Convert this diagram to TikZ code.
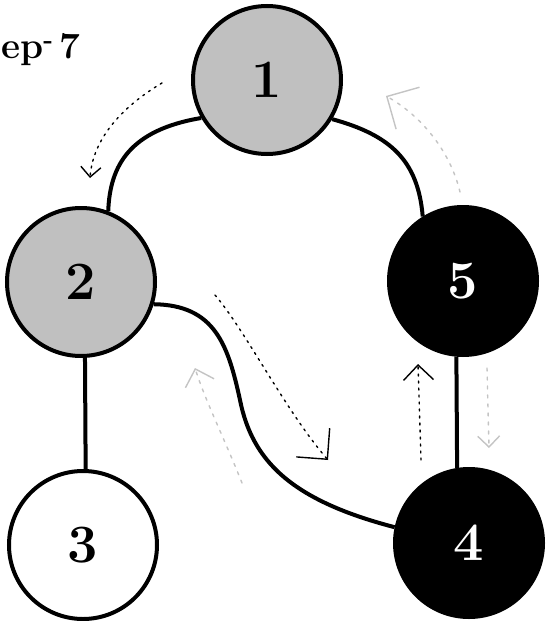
\documentclass[tikz,border=0pt]{standalone}
\usetikzlibrary{arrows.meta}
\definecolor{nodegray}{HTML}{C0C0C0}
\definecolor{flowgray}{HTML}{C4C4C4}
\begin{document}
\begin{tikzpicture}[x=1pt,y=-1pt,
  vertex/.style={circle,draw=black,line width=4pt,minimum size=148pt,inner sep=0pt,
    font=\fontsize{54}{60}\selectfont\bfseries},
  edge/.style={draw=black,line width=4pt},
  flowblack/.style={draw=black,line width=1.4pt,line cap=round,dash pattern=on 2pt off 5pt,
    -{Straight Barb[length=10pt,width=20pt,scale=#1]}},
  flowgrey/.style={draw=flowgray,line width=1.4pt,line cap=round,dash pattern=on 3pt off 6pt,
    -{Straight Barb[length=10pt,width=20pt,scale=#1]}},
  titletext/.style={font=\fontsize{37}{42}\selectfont\bfseries,inner sep=0pt}
]
\useasboundingbox (0,0) rectangle (546,621);
\fill[white] (0,0) rectangle (546,621);

% title
\node[titletext,anchor=base west] (title) at (1,58) {ep\textsuperscript{-}\,7};

% vertices
\node[vertex,fill=nodegray] (n1) at (267,80) {1};
\node[vertex,fill=nodegray] (n2) at (81,282) {2};
\node[vertex,fill=white] (n3) at (83,545) {3};
\node[vertex,fill=black,text=white] (n4) at (469,543) {4};
\node[vertex,fill=black,text=white] (n5) at (463,281) {5};

% edges
\draw[edge] (n1.210) .. controls (130,130) and (110,165) .. (n2.69);
\draw[edge] (n1.329) .. controls (390,135) and (418,160) .. (n5.122);
\draw[edge] (n2.273) -- (n3.88);
\draw[edge] (n2.343) .. controls (215,305) and (228,345) .. (240,400)
   .. controls (252,460) and (290,500) .. (n4.168);
\draw[edge] (n5.265) -- (n4.99);

% traversal arrows
\coordinate (a1s) at (162,83);  \coordinate (a1e) at (90,178);
\coordinate (a2s) at (460,192); \coordinate (a2e) at (386,96);
\coordinate (a3s) at (215,295); \coordinate (a3e) at (328,460);
\coordinate (a4s) at (242,483); \coordinate (a4e) at (195,368);
\coordinate (a5s) at (421,460); \coordinate (a5e) at (418,364);
\coordinate (a6s) at (487,368); \coordinate (a6e) at (489,448);

\draw[flowblack=1] (a1s) .. controls (120,108) and (93,140) .. (a1e);
\draw[flowgrey=2.4] (a2s) .. controls (450,150) and (420,115) .. (a2e);
\draw[flowblack=2.2] (a3s) .. controls (245,330) and (285,410) .. (a3e);
\draw[flowgrey=1.5] (a4s) .. controls (225,440) and (205,400) .. (a4e);
\draw[flowblack=1.5] (a5s) -- (a5e);
\draw[flowgrey=1.1] (a6s) -- (a6e);
\end{tikzpicture}
\end{document}
